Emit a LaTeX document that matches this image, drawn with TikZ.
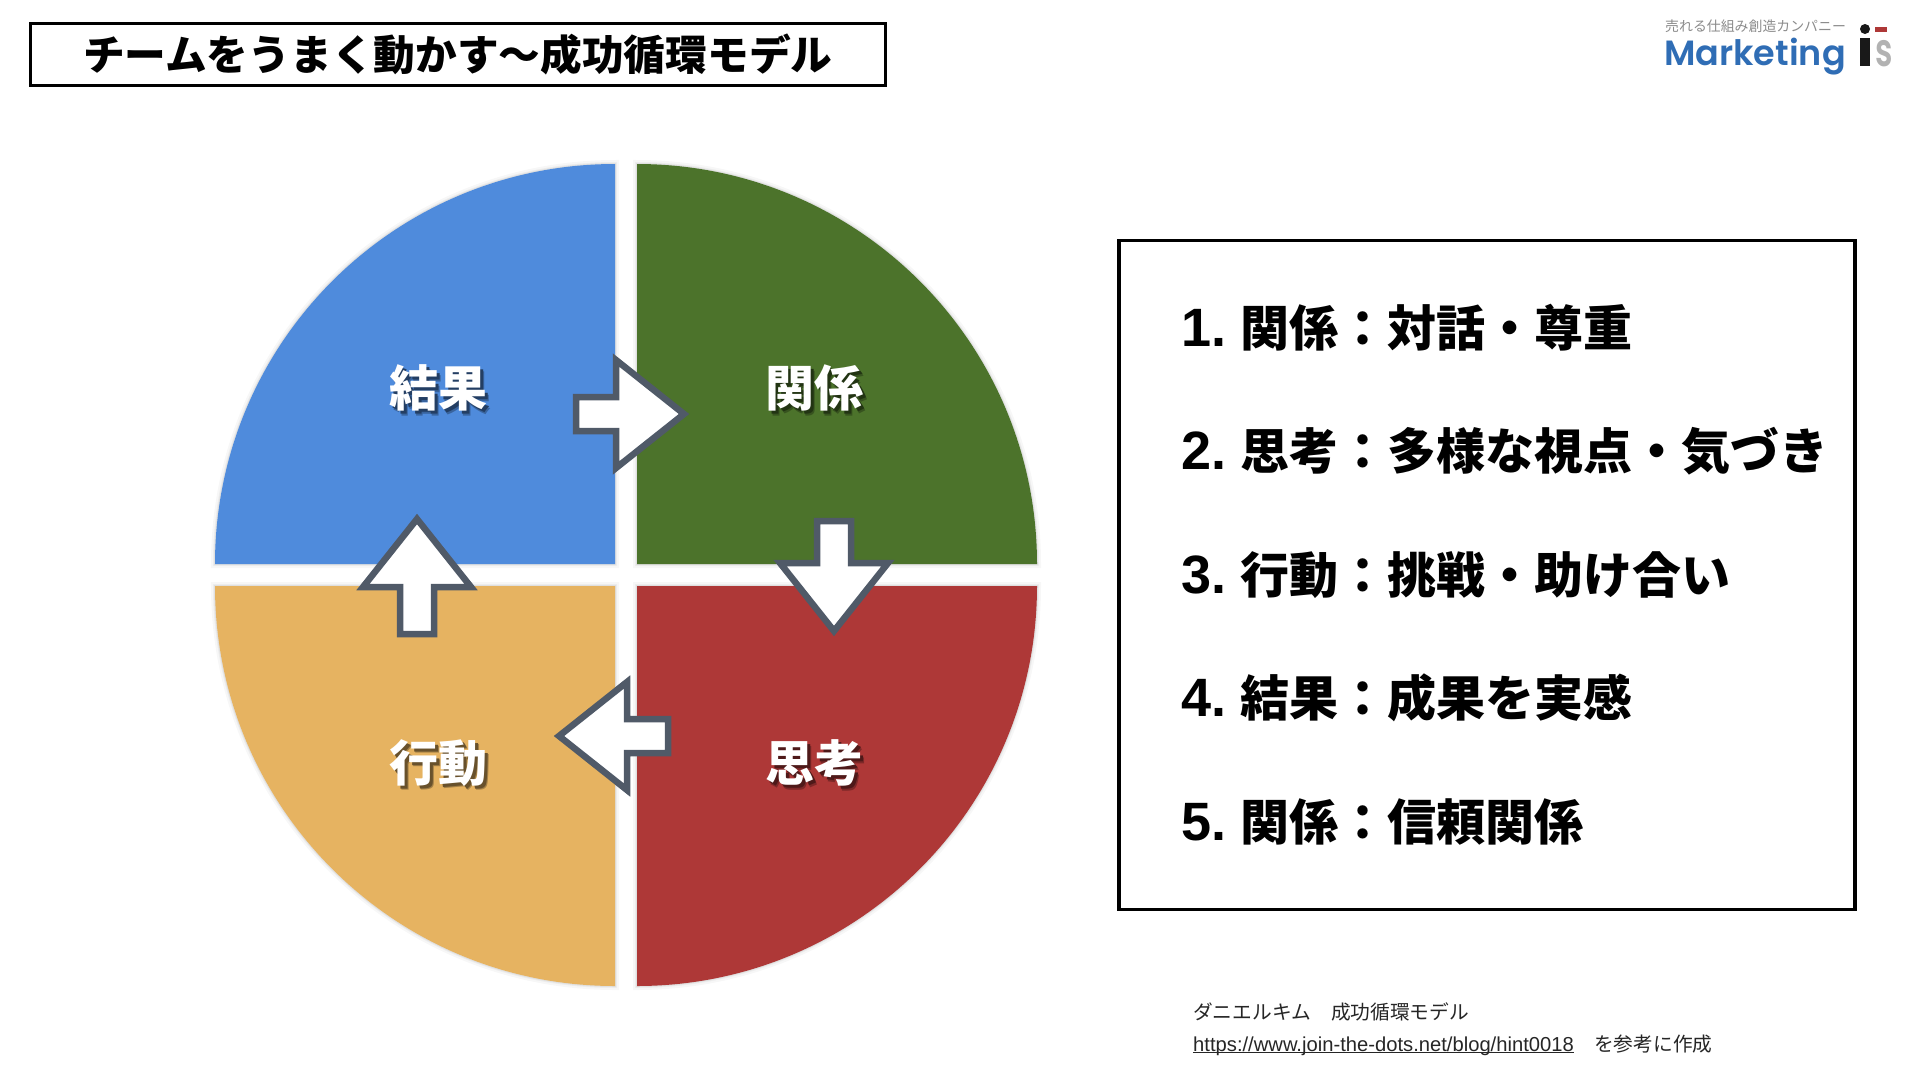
\documentclass[tikz,border=0pt]{standalone}
\usepackage{fontspec}
\setmainfont{Noto Sans CJK JP}
\newfontfamily\numfont{Liberation Sans}
\newfontfamily\logofont{Poppins}[BoldFont=Poppins SemiBold]
\definecolor{qblue}{HTML}{4F8BDC}
\definecolor{qgreen}{HTML}{4C732B}
\definecolor{qred}{HTML}{AE3837}
\definecolor{qorange}{HTML}{E6B361}
\definecolor{qstroke}{HTML}{505A68}
\definecolor{logoblue}{HTML}{2F6DB5}
\tikzset{
  sector/.style={preaction={draw=black,draw opacity=.03,line width=8pt},
    preaction={draw=black,draw opacity=.04,line width=4pt},
    preaction={draw=black,draw opacity=.05,line width=2pt}},
  framebox/.style={draw=black,line width=3.5pt,fill=white},
  blockarrow/.style={draw=qstroke,fill=white,line width=6.5pt,miter limit=10,line join=miter},
  quadlabel/.style={text=white,font=\bfseries\fontsize{49}{49}\selectfont,inner sep=0pt},
  listitem/.style={anchor=west,inner sep=0pt,text=black,font=\bfseries\fontsize{49}{49}\selectfont}
}
\newcommand{\numlab}[1]{\makebox[59pt][l]{\numfont\bfseries\fontsize{54}{54}\selectfont #1}}
% tip x, tip y, rotation, total length, head length
\newcommand{\barrow}[5]{\draw[blockarrow,shift={(#1,#2)},rotate=#3]
  (0,0) -- (-#5,54) -- (-#5,17) -- (-#4,17) -- (-#4,-17) -- (-#5,-17) -- (-#5,-54) -- cycle;}
% label with its drop shadow in one node
\newcommand{\shadowtext}[2]{%
  \makebox[0pt][l]{\hspace{4.5pt}\smash{\raisebox{-4.5pt}{\textcolor{#1!72!black}{#2}}}}%
  \makebox[0pt][l]{\hspace{3pt}\smash{\raisebox{-3pt}{\textcolor{#1!45!black}{#2}}}}%
  #2}
\begin{document}
\begin{tikzpicture}[x=1pt,y=1pt]
\useasboundingbox (0,0) rectangle (1920,-1080);
\fill[white] (0,0) rectangle (1920,-1080);
% title
\node[framebox,minimum width=855pt,minimum height=62pt,inner sep=0pt,anchor=north west,
  font=\bfseries\fontsize{41.7}{42}\selectfont] (title) at (28.5,-21.5) {チームをうまく動かす〜成功循環モデル};
% sectors
\path[fill=qblue,sector] (615,-564) -- (215,-564) arc[start angle=180,end angle=90,radius=400] -- cycle;
\path[fill=qgreen,sector] (637,-564) -- (637,-164) arc[start angle=90,end angle=0,radius=400] -- cycle;
\path[fill=qred,sector] (637,-586) -- (1037,-586) arc[start angle=0,end angle=-90,radius=400] -- cycle;
\path[fill=qorange,sector] (615,-586) -- (615,-986) arc[start angle=-90,end angle=-180,radius=400] -- cycle;
% labels
\node[quadlabel] (lresult) at (438,-388) {\shadowtext{qblue}{結果}};
\node[quadlabel] (lrel) at (814,-388) {\shadowtext{qgreen}{関係}};
\node[quadlabel] (laction) at (438,-763) {\shadowtext{qorange}{行動}};
\node[quadlabel] (lthink) at (814,-763) {\shadowtext{qred}{思考}};
% arrows
\barrow{684}{-414}{0}{108}{68}
\barrow{834}{-631}{-90}{110}{68}
\barrow{559}{-736}{180}{109}{68}
\barrow{417}{-519}{90}{115}{68}
% list box
\node[framebox,minimum width=736pt,minimum height=669pt,inner sep=0pt,anchor=north west] (listbox) at (1117,-238.5) {};
\node[listitem] (item1) at (1181,-328) {\numlab{1.}関係：対話・尊重};
\node[listitem] (item2) at (1181,-451) {\numlab{2.}思考：多様な視点・気づき};
\node[listitem] (item3) at (1181,-575) {\numlab{3.}行動：挑戦・助け合い};
\node[listitem] (item4) at (1181,-698) {\numlab{4.}結果：成果を実感};
\node[listitem] (item5) at (1181,-822) {\numlab{5.}関係：信頼関係};
% source
\node[anchor=west,inner sep=0pt,font=\fontsize{19.7}{20}\selectfont,text=black!85] (src1) at (1193,-1012) {ダニエルキム　成功循環モデル};
\node[anchor=base west,inner sep=0pt,font=\fontsize{20.2}{22}\selectfont,text=black!85] (src2) at (1193,-1051) {{\numfont\underline{\smash{https://www.join-the-dots.net/blog/hint0018}}}};
\node[anchor=west,inner sep=0pt,font=\fontsize{19.7}{20}\selectfont,text=black!85] (src3) at (1594,-1044) {を参考に作成};
% logo
\node[anchor=west,inner sep=0pt,font=\fontsize{13.9}{14}\selectfont,text=black!45] (logot) at (1665,-26) {売れる仕組み創造カンパニー};
\node[anchor=base west,inner sep=0pt,font=\logofont\bfseries\fontsize{35}{35}\selectfont,text=logoblue] (logom) at (1664,-65) {Marketing};
\fill[black!90] (1865,-29) circle[radius=5];
\fill[black!90] (1860,-38) rectangle (1870,-66);
\fill[qred] (1875,-27) rectangle (1887,-32);
\node[anchor=base west,inner sep=0pt,yscale=1.45,font=\logofont\bfseries\fontsize{32}{32}\selectfont,text=black!30] (logos) at (1875,-66) {s};
\end{tikzpicture}
\end{document}
